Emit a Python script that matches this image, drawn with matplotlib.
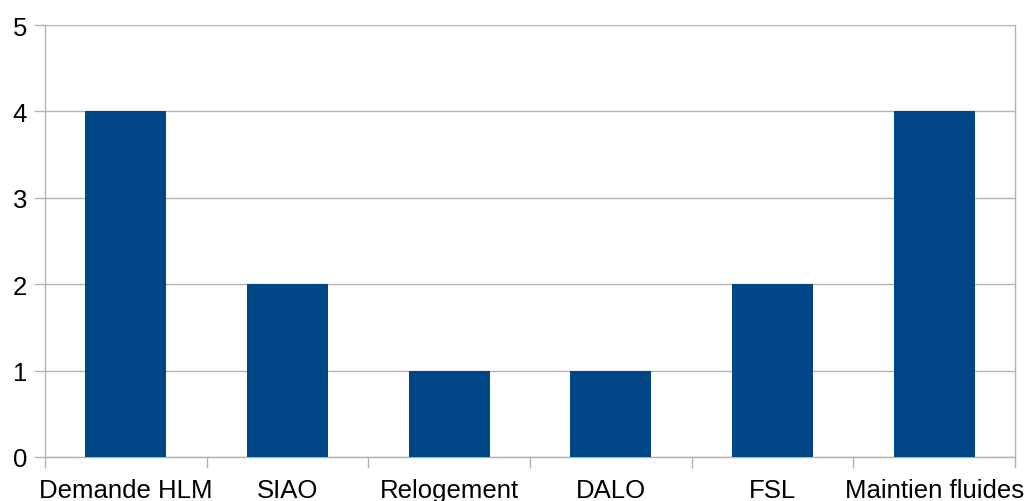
import matplotlib
matplotlib.use("Agg")
import matplotlib.pyplot as plt
import numpy as np

# data
categories = ["Demande HLM", "SIAO", "Relogement", "DALO", "FSL", "Maintien fluides"]
values = [4, 2, 1, 1, 2, 4]
yticks = [0, 1, 2, 3, 4, 5]

plt.rcParams['font.family'] = ['Liberation Sans', 'DejaVu Sans']

grey = "#b3b3b3"
blue = "#004586"

fig = plt.figure(figsize=(10.26, 5.02), dpi=100)
ax = fig.add_axes([45 / 1026, 44 / 502, 970 / 1026, 432 / 502])

x = np.arange(len(categories))
ax.bar(x, values, width=0.5, color=blue, zorder=3)

ax.set_xlim(-0.5, len(categories) - 0.5)
ax.set_ylim(0, 5)
ax.set_yticks(yticks)
ax.set_yticklabels([str(v) for v in yticks], fontsize=18.5)
ax.yaxis.grid(True, color=grey, linewidth=1, zorder=0)

# labels at centres, tick marks at category boundaries
ax.set_xticks(x)
ax.set_xticklabels(categories, fontsize=18.5)
ax.set_xticks(np.arange(-0.5, len(categories)), minor=True)
ax.tick_params(axis='x', which='major', length=0, pad=15)
ax.tick_params(axis='x', which='minor', length=8, width=1, color=grey)
ax.tick_params(axis='y', length=8, width=1, color=grey, pad=5)

for s in ["left", "bottom", "right"]:
    ax.spines[s].set_color(grey)
    ax.spines[s].set_linewidth(1)
ax.spines["top"].set_visible(False)

fig.savefig("out.png", dpi=100)
